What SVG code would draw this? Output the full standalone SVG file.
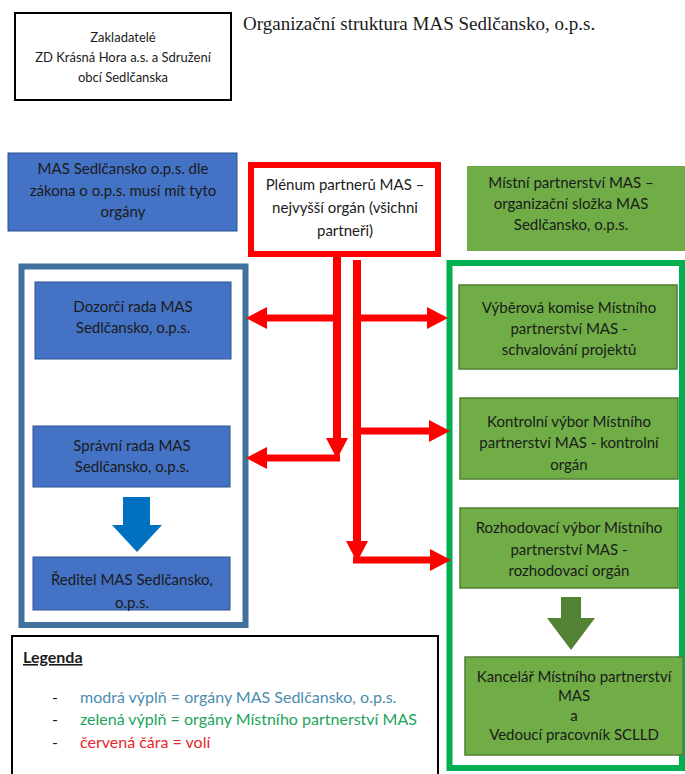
<svg xmlns="http://www.w3.org/2000/svg" width="685" height="774" viewBox="0 0 685 774">
<style>
.t{font-family:Lato,"Liberation Sans",sans-serif;font-size:15px;fill:#1b1b1b;text-anchor:middle}
.s{font-size:13px}
.bl{fill:#4472C4;stroke:#2F528F;stroke-width:1}
.gr{fill:#70AD47;stroke:#507E32;stroke-width:1.5}
.red{stroke:#FF0000;stroke-width:7;fill:none}
.rv{stroke:#FF0000;stroke-width:8;fill:none}
.lg{font-family:Lato,"Liberation Sans",sans-serif;font-size:16px}
</style>
<defs>
<marker id="ah" markerUnits="userSpaceOnUse" markerWidth="22" markerHeight="24" refX="0" refY="11" orient="auto" overflow="visible">
<path d="M0,0 L21,11 L0,22 z" fill="#FF0000"/>
</marker>
</defs>
<rect width="685" height="774" fill="#fff"/>

<g id="zakladatele">
<rect x="15" y="13" width="216" height="87" fill="#fff" stroke="#000" stroke-width="2"/>
<text class="t s" x="123" y="42">Zakladatelé</text>
<text class="t s" x="123" y="62">ZD Krásná Hora a.s. a Sdružení</text>
<text class="t s" x="123" y="82">obcí Sedlčanska</text>
</g>

<g id="title">
<text x="243" y="30" font-family="'Liberation Serif',serif" font-size="19" fill="#1b1b1b">Organizační struktura MAS Sedlčansko, o.p.s.</text>
</g>

<g id="mas-ops">
<rect class="bl" x="8" y="153" width="229" height="78"/>
<text class="t" x="123" y="174">MAS Sedlčansko o.p.s. dle</text>
<text class="t" x="123" y="196">zákona o o.p.s. musí mít tyto</text>
<text class="t" x="123" y="217">orgány</text>
</g>

<g id="plenum">
<rect x="251" y="165" width="187" height="89" fill="#fff" stroke="#FF0000" stroke-width="6"/>
<text class="t" x="345" y="190">Plénum partnerů MAS –</text>
<text class="t" x="345" y="213">nejvyšší orgán (všichni</text>
<text class="t" x="345" y="236">partneři)</text>
</g>

<g id="mistni-partnerstvi">
<rect x="467" y="166" width="220" height="85" fill="#70AD47"/>
<text class="t" x="571" y="188">Místní partnerství MAS –</text>
<text class="t" x="571" y="209">organizační složka MAS</text>
<text class="t" x="571" y="230">Sedlčansko, o.p.s.</text>
</g>

<g id="blue-frame">
<rect x="21.5" y="266.5" width="224" height="358.5" fill="none" stroke="#41719C" stroke-width="6"/>
</g>

<g id="green-frame">
<rect x="449.5" y="263" width="232.5" height="505" fill="none" stroke="#00B050" stroke-width="6"/>
</g>

<g id="dozorci-rada">
<rect class="bl" x="35" y="282" width="196" height="77"/>
<text class="t" x="133" y="312">Dozorčí rada MAS</text>
<text class="t" x="133" y="333">Sedlčansko, o.p.s.</text>
</g>

<g id="spravni-rada">
<rect class="bl" x="33" y="426" width="197" height="61"/>
<text class="t" x="132" y="451">Správní rada MAS</text>
<text class="t" x="132" y="472">Sedlčansko, o.p.s.</text>
</g>

<g id="blue-arrow">
<polygon points="123,497 150,497 150,525 162,525 137,552 112,525 123,525" fill="#0070C0"/>
</g>

<g id="reditel">
<rect class="bl" x="33" y="557" width="197" height="53"/>
<text class="t" x="132" y="585">Ředitel MAS Sedlčansko,</text>
<text class="t" x="132" y="608">o.p.s.</text>
</g>

<g id="vyberova-komise">
<rect class="gr" x="459" y="285" width="218" height="84"/>
<text class="t" x="569" y="313">Výběrová komise Místního</text>
<text class="t" x="569" y="334">partnerství MAS  -</text>
<text class="t" x="569" y="355">schvalování projektů</text>
</g>

<g id="kontrolni-vybor">
<rect class="gr" x="460" y="398" width="218" height="81"/>
<text class="t" x="569" y="427">Kontrolní výbor Místního</text>
<text class="t" x="569" y="448">partnerství MAS - kontrolní</text>
<text class="t" x="569" y="470">orgán</text>
</g>

<g id="rozhodovaci-vybor">
<rect class="gr" x="460" y="508" width="218" height="80"/>
<text class="t" x="569" y="533">Rozhodovací výbor Místního</text>
<text class="t" x="569" y="555">partnerství MAS -</text>
<text class="t" x="569" y="576">rozhodovací orgán</text>
</g>

<g id="green-arrow">
<polygon points="561,597 581,597 581,618 595,618 571,650 547,618 561,618" fill="#548235"/>
</g>

<g id="kancelar">
<rect class="gr" x="465" y="657" width="218" height="98"/>
<text class="t" x="574" y="682">Kancelář Místního partnerství</text>
<text class="t" x="574" y="701">MAS</text>
<text class="t" x="574" y="721">a</text>
<text class="t" x="574" y="740">Vedoucí pracovník SCLLD</text>
</g>

<g id="connectors">
<line class="rv" x1="337" y1="254" x2="337" y2="438" marker-end="url(#ah)"/>
<line class="rv" x1="357" y1="260" x2="357" y2="541" marker-end="url(#ah)"/>
<line class="red" x1="337" y1="318" x2="267" y2="318" marker-end="url(#ah)"/>
<line class="red" x1="357" y1="318" x2="427" y2="318" marker-end="url(#ah)"/>
<line class="red" x1="357" y1="431" x2="429" y2="431" marker-end="url(#ah)"/>
<line class="red" x1="340" y1="458" x2="267" y2="458" marker-end="url(#ah)"/>
<line class="red" x1="353" y1="560" x2="430" y2="560" marker-end="url(#ah)"/>
</g>

<g id="legenda">
<rect x="12" y="636" width="426" height="150" fill="#fff" stroke="#000" stroke-width="2"/>
<text class="lg" x="23" y="663" font-weight="bold" text-decoration="underline" fill="#1b1b1b">Legenda</text>
<text class="lg" x="52" y="703" fill="#1b1b1b">-</text>
<text class="lg" x="80" y="703" fill="#4A8DB0">modrá výplň = orgány MAS Sedlčansko, o.p.s.</text>
<text class="lg" x="52" y="725" fill="#1b1b1b">-</text>
<text class="lg" x="80" y="725" fill="#22A45A">zelená výplň = orgány Místního partnerství MAS</text>
<text class="lg" x="52" y="748" fill="#1b1b1b">-</text>
<text class="lg" x="80" y="748" fill="#E8262B">červená čára = volí</text>
</g>
</svg>
